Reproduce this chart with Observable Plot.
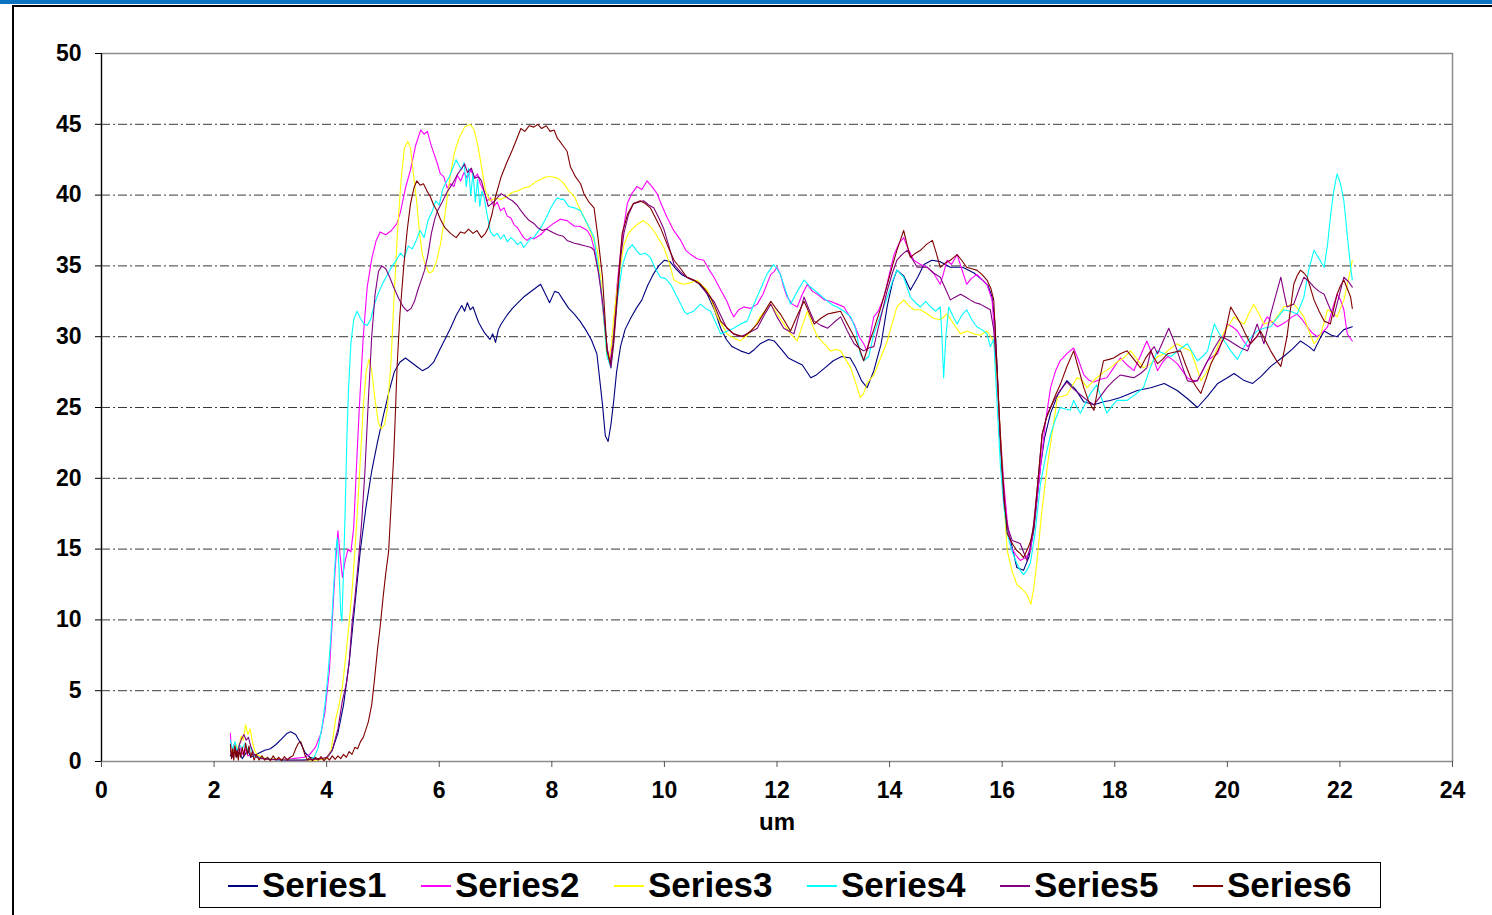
<!DOCTYPE html>
<html>
<head>
<meta charset="utf-8">
<script src="https://cdn.jsdelivr.net/npm/d3@7"></script>
<script src="https://cdn.jsdelivr.net/npm/@observablehq/plot@0.6"></script>
<style>
  html, body { margin: 0; padding: 0; background: #fff; }
  body { width: 1492px; height: 915px; position: relative; overflow: hidden; font-family: "Liberation Sans", Arial, sans-serif; }
  #topbar { position: absolute; left: 0; top: 0; width: 1492px; height: 4px; background: #0a72c0; }
  #topline { position: absolute; left: 12px; top: 5px; width: 1480px; height: 2px; background: #000; }
  #leftline { position: absolute; left: 12px; top: 5px; width: 2px; height: 910px; background: #000; }
  #chart { position: absolute; left: 0; top: 0; }
  #legend { position: absolute; left: 199px; top: 862px; width: 1180px; height: 44px; border: 1px solid #000; background: #fff; }
  .entry { position: absolute; top: 0; height: 44px; }
  .swatch { position: absolute; top: 22px; width: 30px; height: 1.5px; }
  .lab { position: absolute; top: 0; line-height: 44px; font-size: 35px; font-weight: bold; color: #000; white-space: nowrap; }
</style>
</head>
<body>
<div id="topbar"></div>
<div id="topline"></div>
<div id="leftline"></div>
<div id="chart"></div>
<div id="legend"></div>
<script>
const seriesNames = ["Series1","Series2","Series3","Series4","Series5","Series6"];
const seriesColors = ["#000080","#ff00ff","#ffff00","#00ffff","#800080","#800000"];
const xTicks = [0,2,4,6,8,10,12,14,16,18,20,22,24];
const yTicks = [0,5,10,15,20,25,30,35,40,45,50];
const gridValues = [5,10,15,20,25,30,35,40,45];
const xLabel = "um";

const s1 = [[2.29,0.4],[2.35,0.9],[2.4,0.3],[2.45,0.7],[2.5,0.2],[2.55,0.5],[2.6,0.8],[2.65,0.3],[2.7,0.4],[2.8,0.6],[2.9,0.8],[3.0,0.9],[3.1,1.2],[3.2,1.6],[3.3,2.0],[3.36,2.1],[3.45,1.9],[3.55,1.2],[3.62,0.6],[3.7,0.3],[3.8,0.2],[3.9,0.15],[4.0,0.2],[4.1,0.8],[4.2,2.0],[4.3,4.0],[4.4,7.0],[4.5,11.0],[4.6,15.0],[4.7,18.0],[4.8,20.5],[4.9,22.5],[5.0,24.3],[5.1,26.0],[5.2,27.5],[5.3,28.2],[5.4,28.5],[5.5,28.2],[5.6,27.9],[5.7,27.6],[5.8,27.8],[5.9,28.2],[6.0,29.0],[6.1,29.8],[6.2,30.6],[6.3,31.5],[6.4,32.2],[6.45,31.8],[6.5,32.4],[6.55,31.9],[6.6,32.1],[6.7,31.0],[6.8,30.3],[6.9,29.8],[6.95,30.2],[7.0,29.6],[7.05,30.5],[7.1,30.9],[7.2,31.5],[7.3,32.0],[7.4,32.4],[7.5,32.8],[7.6,33.1],[7.7,33.4],[7.8,33.7],[7.9,32.9],[7.96,32.4],[8.05,33.2],[8.12,33.1],[8.2,32.6],[8.3,32.0],[8.4,31.6],[8.5,31.1],[8.6,30.5],[8.7,29.8],[8.8,28.8],[8.85,27.0],[8.9,25.2],[8.95,23.0],[9.0,22.6],[9.05,23.8],[9.1,25.5],[9.15,27.5],[9.22,29.3],[9.3,30.5],[9.4,31.3],[9.5,32.0],[9.6,32.6],[9.7,33.6],[9.8,34.4],[9.9,35.0],[10.0,35.4],[10.1,35.3],[10.2,34.8],[10.3,34.4],[10.45,34.1],[10.6,33.8],[10.75,33.1],[10.9,31.8],[11.0,30.6],[11.1,29.8],[11.2,29.3],[11.35,29.0],[11.5,28.8],[11.6,29.1],[11.7,29.5],[11.85,29.8],[11.95,29.7],[12.1,29.0],[12.2,28.5],[12.35,28.2],[12.45,28.0],[12.6,27.1],[12.7,27.3],[12.85,27.8],[13.0,28.3],[13.15,28.6],[13.3,28.5],[13.4,27.8],[13.5,26.9],[13.6,26.4],[13.72,27.6],[13.85,29.5],[13.96,32.2],[14.05,33.8],[14.13,34.7],[14.25,34.3],[14.37,33.3],[14.5,34.2],[14.61,35.1],[14.75,35.4],[14.9,35.3],[15.08,34.9],[15.3,34.9],[15.5,34.5],[15.65,34.0],[15.75,33.6],[15.82,32.8],[15.87,31.0],[15.91,27.8],[15.96,23.0],[16.02,19.0],[16.08,16.8],[16.15,15.6],[16.26,13.7],[16.38,13.5],[16.48,14.5],[16.56,16.3],[16.62,18.5],[16.68,20.8],[16.75,22.8],[16.86,24.6],[17.0,26.0],[17.15,26.9],[17.3,26.3],[17.45,25.4],[17.63,25.2],[17.8,25.4],[17.92,25.5],[18.1,25.7],[18.22,25.9],[18.4,26.2],[18.64,26.4],[18.88,26.7],[19.11,26.2],[19.3,25.6],[19.47,25.0],[19.65,25.8],[19.83,26.7],[20.0,27.1],[20.12,27.4],[20.3,26.9],[20.45,26.7],[20.6,27.2],[20.77,27.9],[21.0,28.6],[21.15,29.1],[21.3,29.7],[21.45,29.3],[21.54,29.0],[21.65,29.9],[21.72,30.4],[21.85,30.1],[21.95,30.0],[22.07,30.5],[22.22,30.7]];

const s2 = [[2.29,2.0],[2.31,0.4],[2.35,1.2],[2.4,0.6],[2.45,1.1],[2.5,0.5],[2.55,0.9],[2.6,0.4],[2.7,0.5],[2.8,0.3],[2.9,0.2],[3.0,0.2],[3.2,0.15],[3.4,0.2],[3.6,0.3],[3.7,0.5],[3.8,1.0],[3.9,2.0],[3.97,3.5],[4.05,6.5],[4.1,10.0],[4.15,13.5],[4.2,16.3],[4.24,14.5],[4.28,13.0],[4.33,14.2],[4.38,15.0],[4.43,14.8],[4.48,16.5],[4.52,20],[4.58,25],[4.65,30],[4.72,33.5],[4.8,35.5],[4.88,36.8],[4.95,37.4],[5.05,37.2],[5.15,37.5],[5.25,38.0],[5.31,38.8],[5.4,40.5],[5.49,41.8],[5.58,43.5],[5.67,44.6],[5.73,44.3],[5.79,44.5],[5.85,43.6],[5.9,43.0],[5.96,42.3],[6.02,41.5],[6.08,41.3],[6.14,40.5],[6.2,40.8],[6.26,40.6],[6.32,41.4],[6.38,41.0],[6.44,41.6],[6.5,41.2],[6.56,41.8],[6.62,41.2],[6.68,41.5],[6.73,40.8],[6.79,40.3],[6.85,39.6],[6.91,39.8],[6.97,39.2],[7.03,39.5],[7.09,38.9],[7.15,39.1],[7.21,38.5],[7.27,38.4],[7.33,37.9],[7.39,37.7],[7.45,37.3],[7.5,37.0],[7.56,36.8],[7.62,37.0],[7.68,36.9],[7.8,37.2],[7.9,37.6],[8.03,38.0],[8.15,38.3],[8.27,38.2],[8.4,37.8],[8.5,37.8],[8.63,37.5],[8.7,37.0],[8.78,35.8],[8.86,33.7],[8.93,31.0],[8.98,29.2],[9.04,28.3],[9.1,30.5],[9.16,33.7],[9.25,37.0],[9.34,39.4],[9.42,40.1],[9.51,40.6],[9.6,40.4],[9.69,41.0],[9.78,40.6],[9.87,40.1],[9.95,39.3],[10.05,38.4],[10.15,37.6],[10.29,36.8],[10.38,36.1],[10.47,35.8],[10.58,35.5],[10.7,35.4],[10.8,34.7],[10.88,34.2],[11.0,33.3],[11.11,32.5],[11.18,31.8],[11.23,31.4],[11.32,31.9],[11.41,32.1],[11.53,32.0],[11.65,32.3],[11.75,33.0],[11.83,33.8],[11.89,34.4],[11.95,34.6],[12.0,34.9],[12.06,34.4],[12.12,33.5],[12.18,32.8],[12.27,32.3],[12.36,32.1],[12.45,33.0],[12.54,33.7],[12.63,33.2],[12.72,33.0],[12.84,32.6],[12.95,32.5],[13.07,32.3],[13.19,32.1],[13.28,31.5],[13.37,30.9],[13.46,30.0],[13.54,29.5],[13.6,29.0],[13.72,31.4],[13.8,31.8],[13.9,32.8],[14.0,34.5],[14.08,35.8],[14.17,36.6],[14.25,37.0],[14.33,36.2],[14.43,35.4],[14.55,35.1],[14.67,34.9],[14.78,34.5],[14.9,33.7],[14.96,34.5],[15.02,35.4],[15.1,35.1],[15.2,35.8],[15.28,34.8],[15.37,33.7],[15.45,34.1],[15.55,34.4],[15.65,34.0],[15.73,33.7],[15.82,32.6],[15.87,30.0],[15.91,26.6],[15.97,23.0],[16.03,19.6],[16.09,17.0],[16.15,15.2],[16.24,14.6],[16.32,14.2],[16.42,14.4],[16.5,14.9],[16.58,17.2],[16.68,20.8],[16.77,24.0],[16.86,26.4],[16.95,27.6],[17.03,28.3],[17.15,28.8],[17.27,29.2],[17.36,28.3],[17.45,27.3],[17.55,26.9],[17.63,26.8],[17.75,27.0],[17.86,27.1],[17.98,27.8],[18.1,28.5],[18.22,28.0],[18.34,27.6],[18.45,28.6],[18.57,29.7],[18.66,28.8],[18.76,27.6],[18.85,28.2],[18.94,28.6],[19.02,28.4],[19.11,28.1],[19.2,27.6],[19.29,27.1],[19.38,26.9],[19.47,26.9],[19.56,27.6],[19.65,28.3],[19.74,28.6],[19.83,28.8],[19.92,29.9],[20.0,30.9],[20.09,30.7],[20.18,30.4],[20.27,29.8],[20.36,29.3],[20.45,29.7],[20.53,30.0],[20.62,30.8],[20.71,31.4],[20.8,31.0],[20.89,30.7],[20.98,30.9],[21.06,31.1],[21.15,31.4],[21.24,31.6],[21.33,31.2],[21.42,30.7],[21.5,30.3],[21.6,30.0],[21.69,30.3],[21.78,30.7],[21.87,32.0],[21.95,33.0],[22.01,32.6],[22.07,31.9],[22.13,30.2],[22.22,29.7]];

const s3 = [[2.29,1.0],[2.33,0.5],[2.38,1.3],[2.43,0.8],[2.48,1.8],[2.52,1.5],[2.56,2.6],[2.6,1.9],[2.64,2.3],[2.68,1.4],[2.72,0.8],[2.76,0.5],[2.85,0.3],[2.95,0.2],[3.2,0.15],[3.5,0.1],[3.8,0.1],[4.0,0.2],[4.08,0.8],[4.16,3.0],[4.22,4.0],[4.28,5.3],[4.34,7.5],[4.4,9.8],[4.46,12.5],[4.5,14.8],[4.55,18.0],[4.6,21.5],[4.65,25.0],[4.7,27.5],[4.75,28.4],[4.8,27.6],[4.86,25.5],[4.92,23.9],[4.97,23.5],[5.03,23.8],[5.08,25.0],[5.14,28.0],[5.2,33.0],[5.26,37.5],[5.32,41.0],[5.38,43.3],[5.44,43.8],[5.49,43.3],[5.54,41.5],[5.6,39.5],[5.65,37.3],[5.7,35.8],[5.76,35.0],[5.82,34.5],[5.88,34.6],[5.95,35.3],[6.02,36.5],[6.08,38.0],[6.14,39.8],[6.2,41.5],[6.27,43.0],[6.35,44.0],[6.45,44.8],[6.55,45.0],[6.62,44.6],[6.69,43.4],[6.76,41.8],[6.82,40.3],[6.9,39.6],[7.0,39.8],[7.1,39.7],[7.2,39.9],[7.3,40.2],[7.4,40.3],[7.5,40.5],[7.6,40.6],[7.7,40.9],[7.8,41.1],[7.9,41.3],[8.0,41.3],[8.1,41.2],[8.2,40.9],[8.3,40.3],[8.4,39.9],[8.5,39.0],[8.6,38.2],[8.7,37.3],[8.81,36.1],[8.87,34.0],[8.92,31.4],[8.97,29.0],[9.01,28.3],[9.06,29.5],[9.1,31.4],[9.18,34.0],[9.28,36.5],[9.36,37.3],[9.45,37.7],[9.54,38.0],[9.63,38.2],[9.72,37.9],[9.81,37.5],[9.9,36.9],[9.99,36.3],[10.08,35.3],[10.17,34.0],[10.26,33.8],[10.35,33.7],[10.46,33.8],[10.58,34.0],[10.67,33.6],[10.76,33.3],[10.85,32.4],[10.94,31.4],[11.03,30.8],[11.11,30.2],[11.23,29.9],[11.35,29.7],[11.47,30.1],[11.59,30.6],[11.7,31.4],[11.8,31.9],[11.89,32.3],[12.0,31.6],[12.12,30.9],[12.24,30.2],[12.36,29.7],[12.45,30.8],[12.54,31.8],[12.63,30.8],[12.72,30.0],[12.84,29.5],[12.95,29.0],[13.05,29.1],[13.13,29.0],[13.22,28.4],[13.31,27.8],[13.4,26.7],[13.48,25.7],[13.54,26.0],[13.6,26.7],[13.72,27.3],[13.84,28.5],[13.96,29.7],[14.05,31.0],[14.13,32.1],[14.25,32.6],[14.34,32.2],[14.43,31.9],[14.55,31.9],[14.67,31.6],[14.78,31.3],[14.9,31.2],[15.02,31.6],[15.14,30.9],[15.26,30.2],[15.38,30.4],[15.49,30.2],[15.61,30.1],[15.73,30.4],[15.85,29.7],[15.91,27.0],[15.97,23.1],[16.03,18.5],[16.09,14.9],[16.18,13.4],[16.26,12.5],[16.35,12.2],[16.44,11.8],[16.51,11.1],[16.56,12.2],[16.62,14.2],[16.7,17.5],[16.8,20.8],[16.9,23.5],[16.98,25.7],[17.07,25.8],[17.15,25.9],[17.24,26.5],[17.33,27.1],[17.42,26.9],[17.51,26.4],[17.6,26.8],[17.68,27.1],[17.8,27.5],[17.92,27.8],[18.04,28.2],[18.16,28.5],[18.28,29.0],[18.4,28.4],[18.51,27.8],[18.64,28.1],[18.76,28.6],[18.88,28.8],[19.0,29.2],[19.11,29.5],[19.23,29.2],[19.35,29.0],[19.44,28.0],[19.53,26.9],[19.62,27.4],[19.71,28.1],[19.83,29.3],[19.95,30.4],[20.04,30.9],[20.12,31.4],[20.21,31.1],[20.3,30.9],[20.38,31.6],[20.47,32.3],[20.56,31.6],[20.65,30.9],[20.74,31.0],[20.83,31.1],[20.92,31.6],[21.0,32.1],[21.09,32.2],[21.18,32.3],[21.27,31.9],[21.36,31.4],[21.45,30.4],[21.54,29.5],[21.6,29.8],[21.66,30.2],[21.72,31.0],[21.78,31.9],[21.87,31.7],[21.95,31.4],[22.01,32.0],[22.07,32.6],[22.15,34.0],[22.22,35.4]];

const s4 = [[2.29,1.5],[2.33,0.8],[2.37,1.4],[2.41,0.7],[2.45,1.2],[2.5,0.9],[2.55,1.3],[2.6,0.8],[2.65,1.0],[2.7,0.4],[2.8,0.3],[2.9,0.2],[3.2,0.1],[3.5,0.1],[3.7,0.15],[3.78,0.3],[3.85,1.0],[3.92,2.5],[3.97,4.0],[4.02,6.0],[4.07,8.5],[4.12,12.0],[4.16,14.8],[4.19,15.8],[4.22,13.5],[4.25,10.5],[4.27,9.9],[4.3,13.5],[4.33,18.0],[4.36,23.0],[4.39,26.5],[4.43,29.5],[4.48,31.2],[4.54,31.8],[4.6,31.3],[4.66,30.9],[4.72,30.8],[4.78,31.2],[4.85,32.3],[4.92,33.1],[5.0,33.8],[5.07,34.3],[5.15,34.9],[5.22,35.3],[5.31,35.9],[5.38,35.6],[5.45,36.4],[5.52,36.2],[5.59,36.8],[5.66,37.5],[5.73,37.0],[5.8,38.2],[5.88,38.9],[5.94,39.6],[6.0,39.3],[6.06,40.4],[6.12,40.9],[6.18,41.3],[6.24,41.9],[6.3,42.5],[6.35,42.1],[6.4,41.8],[6.44,42.3],[6.48,40.6],[6.52,41.9],[6.56,40.0],[6.6,41.6],[6.64,39.5],[6.68,41.1],[6.72,39.2],[6.76,40.3],[6.8,39.8],[6.85,38.6],[6.91,37.4],[6.97,37.1],[7.03,37.3],[7.09,36.9],[7.15,37.2],[7.21,36.7],[7.27,37.0],[7.33,36.8],[7.39,36.5],[7.45,36.7],[7.5,36.3],[7.56,36.6],[7.62,36.9],[7.68,37.0],[7.75,37.4],[7.82,37.8],[7.9,38.4],[7.97,39.0],[8.04,39.5],[8.1,39.8],[8.16,39.7],[8.21,39.7],[8.3,39.2],[8.4,39.1],[8.51,38.9],[8.6,38.2],[8.69,37.5],[8.75,37.0],[8.82,35.0],[8.9,32.5],[8.95,30.0],[8.98,28.6],[9.05,27.8],[9.1,30.0],[9.16,32.5],[9.25,35.0],[9.34,36.1],[9.43,36.5],[9.5,36.1],[9.57,35.8],[9.66,35.9],[9.75,35.6],[9.84,34.8],[9.93,34.2],[10.02,34.1],[10.11,33.7],[10.2,33.0],[10.29,32.3],[10.35,31.8],[10.4,31.6],[10.52,31.8],[10.64,32.3],[10.73,32.0],[10.82,31.8],[10.91,31.0],[11.0,30.2],[11.12,30.4],[11.23,30.6],[11.35,30.9],[11.47,31.1],[11.58,32.2],[11.7,33.3],[11.82,34.4],[11.94,35.1],[12.0,34.8],[12.06,34.4],[12.15,33.3],[12.24,32.3],[12.36,33.2],[12.48,34.0],[12.57,33.6],[12.66,33.3],[12.78,32.9],[12.9,32.5],[13.0,32.2],[13.07,32.1],[13.19,31.8],[13.31,31.4],[13.4,30.5],[13.48,28.8],[13.54,28.3],[13.63,28.6],[13.72,30.2],[13.84,31.5],[13.96,32.8],[14.05,33.9],[14.13,34.7],[14.25,34.2],[14.37,32.8],[14.46,32.4],[14.55,32.1],[14.64,32.5],[14.73,32.1],[14.82,31.8],[14.9,32.1],[14.93,30.0],[14.96,27.1],[15.0,30.0],[15.05,32.1],[15.12,31.5],[15.2,30.9],[15.28,31.5],[15.37,31.9],[15.46,31.2],[15.55,30.7],[15.64,30.5],[15.73,30.2],[15.79,29.3],[15.85,29.8],[15.9,26.0],[15.97,20.8],[16.03,18.0],[16.09,16.1],[16.18,14.8],[16.26,14.0],[16.32,13.5],[16.38,13.2],[16.44,13.5],[16.5,14.0],[16.58,16.0],[16.68,19.6],[16.77,21.5],[16.86,23.1],[16.95,24.2],[17.03,25.0],[17.12,24.9],[17.21,24.8],[17.27,25.5],[17.33,25.0],[17.39,24.6],[17.48,25.3],[17.57,26.0],[17.68,26.6],[17.77,25.6],[17.86,24.6],[17.95,25.1],[18.04,25.5],[18.22,25.5],[18.36,25.9],[18.51,26.4],[18.64,27.9],[18.76,29.0],[18.88,28.8],[19.0,28.6],[19.15,29.1],[19.29,29.5],[19.38,28.9],[19.47,28.3],[19.56,28.6],[19.65,29.0],[19.71,30.0],[19.77,30.9],[19.83,30.4],[19.89,30.0],[19.98,29.5],[20.06,29.0],[20.12,28.7],[20.18,28.4],[20.27,29.1],[20.36,29.7],[20.45,30.1],[20.53,30.4],[20.65,30.6],[20.77,30.7],[20.88,31.3],[21.0,31.9],[21.12,31.8],[21.24,31.6],[21.3,32.2],[21.36,32.8],[21.45,34.8],[21.54,36.1],[21.63,35.5],[21.72,34.9],[21.78,36.5],[21.83,38.4],[21.89,40.3],[21.95,41.5],[22.01,40.8],[22.07,39.6],[22.13,37.2],[22.19,34.9],[22.22,34.0]];

const s5 = [[2.29,0.8],[2.33,0.3],[2.37,1.0],[2.41,0.5],[2.45,1.2],[2.49,1.6],[2.53,1.9],[2.57,1.5],[2.61,1.7],[2.65,1.1],[2.7,0.6],[2.75,0.3],[2.85,0.2],[3.0,0.15],[3.3,0.1],[3.6,0.1],[3.9,0.2],[4.0,0.3],[4.1,0.8],[4.2,2.3],[4.28,4.3],[4.35,5.5],[4.4,7.0],[4.45,9.7],[4.5,11.5],[4.56,14.0],[4.62,16.8],[4.68,20.5],[4.74,25.5],[4.8,30.0],[4.86,33.0],[4.92,34.6],[4.98,35.0],[5.05,34.8],[5.12,34.2],[5.2,33.4],[5.28,32.7],[5.36,32.1],[5.43,31.8],[5.5,32.0],[5.56,32.5],[5.62,33.3],[5.68,34.0],[5.74,34.7],[5.8,35.8],[5.86,37.3],[5.92,38.3],[5.97,38.9],[6.05,39.5],[6.15,40.3],[6.25,40.9],[6.33,41.5],[6.4,41.9],[6.45,42.2],[6.5,41.6],[6.57,41.9],[6.63,41.2],[6.7,41.3],[6.75,41.0],[6.81,40.1],[6.87,39.2],[6.93,39.4],[6.99,39.6],[7.05,39.9],[7.1,40.1],[7.18,39.9],[7.25,39.7],[7.3,39.6],[7.38,39.3],[7.45,38.9],[7.53,38.5],[7.6,38.2],[7.68,38.0],[7.75,37.7],[7.83,37.5],[7.9,37.6],[8.0,37.4],[8.1,37.2],[8.2,37.1],[8.27,36.8],[8.4,36.6],[8.51,36.5],[8.6,36.4],[8.7,36.3],[8.75,36.1],[8.83,34.5],[8.9,32.5],[8.95,30.5],[8.99,29.0],[9.05,27.8],[9.1,29.5],[9.16,32.5],[9.22,35.5],[9.28,37.3],[9.36,38.6],[9.45,39.4],[9.54,39.5],[9.63,39.6],[9.72,39.3],[9.81,39.1],[9.9,38.4],[9.99,37.6],[10.08,36.4],[10.17,35.1],[10.28,34.6],[10.4,34.2],[10.52,34.0],[10.64,33.7],[10.76,33.0],[10.88,32.5],[11.0,31.5],[11.11,30.6],[11.23,30.2],[11.35,30.0],[11.47,30.2],[11.56,30.4],[11.65,30.6],[11.77,31.5],[11.89,32.3],[12.0,31.4],[12.12,30.6],[12.21,30.4],[12.3,30.2],[12.39,31.5],[12.48,32.8],[12.57,31.9],[12.66,31.1],[12.78,30.8],[12.9,30.6],[13.01,31.0],[13.13,31.4],[13.25,30.4],[13.37,29.5],[13.46,29.2],[13.54,29.0],[13.63,29.2],[13.72,29.3],[13.84,31.3],[13.96,33.3],[14.05,34.5],[14.13,35.4],[14.22,35.8],[14.31,36.1],[14.4,35.5],[14.49,34.9],[14.58,34.9],[14.67,34.9],[14.78,34.5],[14.9,34.2],[14.99,33.4],[15.08,32.6],[15.17,32.8],[15.26,33.0],[15.35,32.8],[15.43,32.6],[15.52,32.4],[15.61,32.3],[15.7,32.1],[15.79,31.9],[15.85,30.5],[15.91,27.4],[15.97,22.8],[16.03,18.4],[16.1,16.5],[16.18,15.6],[16.25,15.5],[16.32,15.4],[16.38,14.8],[16.44,14.2],[16.5,15.2],[16.56,16.8],[16.64,20.0],[16.71,23.1],[16.8,24.5],[16.92,25.5],[17.03,26.2],[17.15,26.8],[17.27,26.3],[17.39,25.9],[17.51,25.5],[17.63,25.2],[17.75,25.8],[17.86,26.4],[17.98,26.9],[18.1,27.3],[18.22,27.2],[18.34,27.1],[18.46,27.4],[18.57,27.8],[18.64,29.0],[18.7,29.3],[18.76,28.8],[18.86,29.7],[18.96,30.6],[19.04,29.8],[19.11,29.0],[19.2,27.9],[19.29,26.9],[19.38,26.8],[19.47,26.9],[19.56,27.6],[19.65,28.3],[19.77,29.2],[19.89,30.0],[20.0,29.8],[20.12,29.5],[20.24,29.2],[20.36,29.0],[20.45,30.0],[20.53,30.9],[20.59,30.2],[20.65,29.5],[20.71,30.5],[20.77,31.6],[20.86,32.9],[20.95,34.2],[21.0,33.2],[21.06,32.1],[21.12,32.2],[21.18,32.3],[21.27,33.3],[21.36,34.2],[21.45,33.9],[21.54,33.5],[21.63,33.2],[21.72,33.0],[21.8,32.2],[21.89,31.4],[21.98,32.8],[22.07,34.2],[22.15,33.9],[22.22,33.5]];

const s6 = [[2.29,1.2],[2.31,0.2],[2.33,0.9],[2.35,0.1],[2.37,1.1],[2.39,0.3],[2.41,0.8],[2.43,0.1],[2.45,0.9],[2.47,0.3],[2.5,1.0],[2.53,0.4],[2.56,1.3],[2.59,0.5],[2.62,1.1],[2.65,0.3],[2.68,0.7],[2.71,0.1],[2.75,0.5],[2.8,0.1],[2.85,0.4],[2.9,0.1],[2.95,0.3],[3.0,0.05],[3.05,0.4],[3.1,0.1],[3.15,0.3],[3.2,0.05],[3.25,0.35],[3.3,0.1],[3.35,0.3],[3.4,0.4],[3.45,0.9],[3.5,1.3],[3.54,1.4],[3.58,0.9],[3.62,0.4],[3.66,0.1],[3.7,0.3],[3.75,0.05],[3.8,0.3],[3.85,0.1],[3.9,0.35],[3.95,0.05],[4.0,0.3],[4.05,0.1],[4.1,0.4],[4.15,0.15],[4.2,0.4],[4.25,0.2],[4.3,0.5],[4.35,0.3],[4.4,0.7],[4.45,0.5],[4.5,1.0],[4.55,0.9],[4.6,1.4],[4.65,1.7],[4.7,2.3],[4.74,2.8],[4.8,4.0],[4.85,5.8],[4.9,7.8],[4.95,9.5],[5.0,11.5],[5.05,13.3],[5.1,14.8],[5.15,18.5],[5.19,21.5],[5.22,24.5],[5.25,27.8],[5.3,31.5],[5.37,35.0],[5.43,37.5],[5.49,39.4],[5.55,40.5],[5.6,41.0],[5.66,40.7],[5.72,40.8],[5.78,40.3],[5.84,39.9],[5.9,39.3],[5.96,38.9],[6.02,38.3],[6.1,37.7],[6.2,37.3],[6.3,37.0],[6.38,37.4],[6.45,37.3],[6.52,37.6],[6.6,37.3],[6.67,37.5],[6.75,37.0],[6.82,37.3],[6.87,37.7],[6.94,38.7],[7.0,39.9],[7.05,40.6],[7.1,41.3],[7.2,42.3],[7.3,43.2],[7.38,44.0],[7.45,44.7],[7.52,44.5],[7.6,44.9],[7.68,44.8],[7.75,45.0],[7.82,44.7],[7.9,44.9],[7.97,44.5],[8.04,44.6],[8.1,44.0],[8.16,43.7],[8.27,43.1],[8.33,42.0],[8.42,41.3],[8.51,40.8],[8.57,40.1],[8.66,39.5],[8.75,39.1],[8.82,37.0],[8.9,34.2],[8.95,31.0],[8.98,29.0],[9.04,28.1],[9.09,29.5],[9.13,31.4],[9.19,34.5],[9.25,37.3],[9.35,38.7],[9.45,39.4],[9.57,39.6],[9.66,39.4],[9.75,39.1],[9.84,38.4],[9.93,37.7],[10.05,36.5],[10.17,35.4],[10.29,34.8],[10.4,34.2],[10.52,34.0],[10.64,33.7],[10.73,33.3],[10.82,32.8],[10.91,32.0],[11.0,31.1],[11.12,30.6],[11.23,30.2],[11.32,30.1],[11.41,30.0],[11.53,30.4],[11.65,30.9],[11.77,31.7],[11.89,32.5],[11.98,32.0],[12.06,31.6],[12.15,31.0],[12.24,30.4],[12.36,31.5],[12.48,32.5],[12.57,31.7],[12.66,30.9],[12.78,31.3],[12.9,31.6],[13.01,31.7],[13.13,31.8],[13.25,30.9],[13.37,30.0],[13.46,29.2],[13.54,28.3],[13.63,29.5],[13.72,30.5],[13.84,32.0],[13.96,33.7],[14.05,35.0],[14.13,36.1],[14.19,36.8],[14.25,37.5],[14.31,36.5],[14.37,35.6],[14.46,35.9],[14.55,36.1],[14.65,36.5],[14.76,36.8],[14.83,35.9],[14.9,34.9],[14.99,35.2],[15.08,35.4],[15.14,35.6],[15.2,35.8],[15.28,35.4],[15.37,34.9],[15.46,34.8],[15.55,34.7],[15.64,34.4],[15.73,34.0],[15.8,33.4],[15.85,32.6],[15.91,27.8],[15.96,23.5],[16.0,20.8],[16.05,18.0],[16.09,16.1],[16.18,15.4],[16.26,14.9],[16.32,14.7],[16.38,14.4],[16.45,15.0],[16.5,15.5],[16.56,16.5],[16.64,20.0],[16.71,23.1],[16.78,24.2],[16.86,25.0],[16.95,25.9],[17.03,26.6],[17.15,27.9],[17.27,29.0],[17.36,27.7],[17.45,26.4],[17.54,25.4],[17.63,24.8],[17.72,26.8],[17.8,28.3],[17.9,28.4],[17.98,28.5],[18.1,28.8],[18.22,29.0],[18.34,28.4],[18.46,27.8],[18.55,28.5],[18.64,29.0],[18.7,28.5],[18.76,28.1],[18.85,28.4],[18.94,28.8],[19.05,28.9],[19.17,29.0],[19.26,28.0],[19.35,27.1],[19.44,26.5],[19.53,26.0],[19.62,27.0],[19.71,28.1],[19.83,29.0],[19.95,30.0],[20.0,31.0],[20.06,32.1],[20.15,31.5],[20.24,30.9],[20.32,30.2],[20.41,29.5],[20.5,29.9],[20.59,30.4],[20.68,29.7],[20.77,29.0],[20.86,28.4],[20.95,27.9],[21.0,28.8],[21.06,30.0],[21.12,31.9],[21.18,33.7],[21.24,34.3],[21.3,34.7],[21.36,34.5],[21.42,34.2],[21.48,33.4],[21.54,32.6],[21.63,31.8],[21.72,31.1],[21.78,31.0],[21.83,30.9],[21.89,32.0],[21.95,33.0],[22.01,33.6],[22.07,34.0],[22.13,33.4],[22.19,32.8],[22.22,32.0]];

const seriesData = [s1, s2, s3, s4, s5, s6];
const rows = seriesData.flatMap((arr, i) => arr.map(([x, y]) => ({x, y, series: seriesNames[i]})));

const chart = Plot.plot({
  width: 1492,
  height: 850,
  marginLeft: 101,
  marginRight: 40,
  marginTop: 53,
  marginBottom: 89,
  style: {fontFamily: "'Liberation Sans', Arial, sans-serif", fontSize: "23px", fontWeight: "bold", color: "#000", background: "transparent"},
  x: {domain: [0, 24]},
  y: {domain: [0, 50]},
  color: {domain: seriesNames, range: seriesColors},
  marks: [
    Plot.ruleY(gridValues, {stroke: "#3a3a3a", strokeWidth: 1, strokeDasharray: "9,3,2,3"}),
    Plot.frame({stroke: "#8c8c8c", strokeWidth: 1.5}),
    Plot.line(rows, {x: "x", y: "y", z: "series", stroke: "series", strokeWidth: 1.1, curve: "linear"}),
    Plot.ruleX([0], {stroke: "#000", strokeWidth: 1.2}),
    Plot.axisY({ticks: yTicks, tickSize: 6, tickPadding: 14, label: null, stroke: "#000", fontSize: 23}),
    Plot.axisX({ticks: xTicks, tickSize: 6, tickPadding: 14, label: null, stroke: "#555", fontSize: 23}),
    Plot.text([xLabel], {frameAnchor: "bottom", dy: 68, fontSize: 24, fontWeight: "bold", fill: "#000"})
  ]
});
document.getElementById("chart").appendChild(chart);

const legend = document.getElementById("legend");
seriesNames.forEach((name, i) => {
  const e = document.createElement("div");
  e.className = "entry";
  e.style.left = (28 + 193 * i) + "px";
  const sw = document.createElement("div");
  sw.className = "swatch";
  sw.style.left = "0px";
  sw.style.background = seriesColors[i];
  const lb = document.createElement("div");
  lb.className = "lab";
  lb.style.left = "34px";
  lb.textContent = name;
  e.appendChild(sw);
  e.appendChild(lb);
  legend.appendChild(e);
});
</script>
</body>
</html>
